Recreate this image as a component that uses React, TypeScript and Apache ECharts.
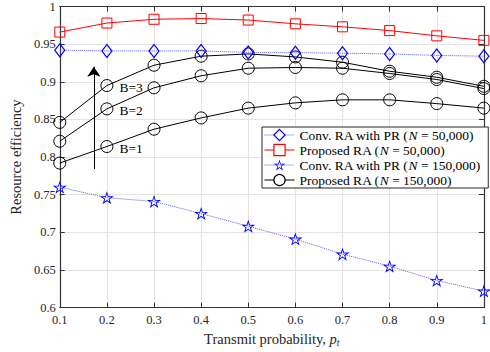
import React, { useEffect, useRef } from "react";
import * as echarts from "echarts";

const xs = [0.1, 0.2, 0.3, 0.4, 0.5, 0.6, 0.7, 0.8, 0.9, 1.0];
const convN50 = [0.942, 0.941, 0.941, 0.941, 0.939, 0.9386, 0.938, 0.937, 0.935, 0.934];
const propN50 = [0.966, 0.978, 0.983, 0.984, 0.982, 0.977, 0.973, 0.968, 0.961, 0.955];
const convN150 = [0.76, 0.746, 0.741, 0.725, 0.708, 0.691, 0.671, 0.655, 0.636, 0.622];
const propB1 = [0.792, 0.814, 0.837, 0.852, 0.865, 0.872, 0.876, 0.876, 0.871, 0.865];
const propB2 = [0.821, 0.864, 0.892, 0.908, 0.918, 0.919, 0.918, 0.911, 0.903, 0.891];
const propB3 = [0.846, 0.895, 0.922, 0.934, 0.937, 0.933, 0.926, 0.914, 0.906, 0.894];
const bLabels = ["B=1", "B=2", "B=3"];
const bLabelIndex = 1;
const arrowX = 0.1723;
const arrowFrom = 0.784;
const arrowTo = 0.92;

const names = [
  "Conv. RA with PR (N = 50,000)",
  "Proposed RA (N = 50,000)",
  "Conv. RA with PR (N = 150,000)",
  "Proposed RA (N = 150,000)",
];

const FONT = "Liberation Serif";
// hollow five-pointed star (outer outline + reversed inner outline)
const STAR =
  "path://M50 0 L61.23 34.55 L97.55 34.55 L68.17 55.9 L79.39 90.45 L50 69.1 L20.61 90.45 L31.83 55.9 L2.45 34.55 L38.77 34.55 Z " +
  "M50 20 L43.26 40.73 L21.47 40.73 L39.1 53.54 L32.37 74.27 L50 61.46 L67.63 74.27 L60.9 53.54 L78.53 40.73 L56.74 40.73 Z";

export default function App() {
  const ref = useRef<HTMLDivElement>(null);
  useEffect(() => {
    if (!ref.current) return;
    const chart = echarts.init(ref.current, undefined, { renderer: "svg" });
    const pts = (ys: number[]) => xs.map((x, i) => [x, ys[i]]);
    const bSeries = [propB1, propB2, propB3].map((ys, k) => ({
      name: names[3],
      type: "line",
      symbol: "circle",
      symbolSize: 12,
      showAllSymbol: true,
      lineStyle: { color: "#000", width: 1 },
      itemStyle: { color: "rgba(0,0,0,0)", borderColor: "#000", borderWidth: 1 },
      z: 3,
      data: xs.map((x, i) =>
        i === bLabelIndex
          ? {
              value: [x, ys[i]],
              label: {
                show: true,
                formatter: bLabels[k],
                position: "right",
                distance: 6,
                offset: [0, 2],
                color: "#000",
                fontFamily: FONT,
                fontSize: 13.5,
              },
            }
          : [x, ys[i]]
      ),
      markLine:
        k === 0
          ? {
              silent: true,
              symbol: ["none", "arrow"],
              symbolSize: 10,
              label: { show: false },
              lineStyle: { color: "#000", width: 1, type: "solid" },
              data: [[{ coord: [arrowX, arrowFrom] }, { coord: [arrowX, arrowTo] }]],
            }
          : undefined,
    }));
    const axisCommon = {
      axisLine: { show: true, lineStyle: { color: "#333", width: 1.2 } },
      axisTick: { show: true, inside: true, length: 5, lineStyle: { color: "#333" } },
    };
    const legendItemStyles = [
      { color: "#ffffff", borderColor: "#0000ff", borderWidth: 1.2 },
      { color: "#ffffff", borderColor: "#ff0000", borderWidth: 1.2 },
      { color: "#0000ff", borderColor: "#0000ff", borderWidth: 0 },
      { color: "#ffffff", borderColor: "#000000", borderWidth: 1.2 },
    ];
    chart.setOption({
      animation: false,
      backgroundColor: "#fff",
      grid: { left: 51, top: 3, right: 2, bottom: 40, containLabel: false },
      legend: {
        orient: "vertical",
        left: 262,
        top: 127,
        padding: [1, 8, 1, 2],
        itemGap: 1,
        itemWidth: 30,
        itemHeight: 14,
        backgroundColor: "#fff",
        borderColor: "#262626",
        borderWidth: 1,
        borderRadius: 0,
        data: names.map((n, i) => ({ name: n, itemStyle: legendItemStyles[i] })),
        lineStyle: { width: 1 },
        formatter: (n: string) => n.replace("(N", "({i|N}"),
        textStyle: {
          fontFamily: FONT,
          fontSize: 13.5,
          color: "#000",
          rich: { i: { fontFamily: FONT, fontSize: 13.5, fontStyle: "italic", color: "#000" } },
        },
      },
      xAxis: [
        {
          type: "value",
          min: 0.1,
          max: 1,
          interval: 0.1,
          ...axisCommon,
          splitLine: { show: true, lineStyle: { color: "#e3e3e3" } },
          axisLabel: {
            margin: 6,
            color: "#262626",
            fontFamily: FONT,
            fontSize: 12.5,
            formatter: (v: number) => String(Math.round(v * 10) / 10),
          },
          name: "Transmit probability, {i|p}{s|t}",
          nameLocation: "middle",
          nameGap: 22,
          nameTextStyle: {
            fontFamily: FONT,
            fontSize: 14.5,
            color: "#262626",
            rich: {
              i: { fontFamily: FONT, fontSize: 14.5, fontStyle: "italic", color: "#262626" },
              s: { fontFamily: FONT, fontSize: 10, fontStyle: "italic", color: "#262626", padding: [6, 0, 0, 0] },
            },
          },
        },
        {
          type: "value",
          position: "top",
          min: 0.1,
          max: 1,
          interval: 0.1,
          ...axisCommon,
          splitLine: { show: false },
          axisLabel: { show: false },
        },
      ],
      yAxis: [
        {
          type: "value",
          min: 0.6,
          max: 1,
          interval: 0.05,
          ...axisCommon,
          splitLine: { show: true, lineStyle: { color: "#e3e3e3" } },
          axisLabel: {
            margin: 4,
            color: "#262626",
            fontFamily: FONT,
            fontSize: 12.5,
            formatter: (v: number) => String(Math.round(v * 100) / 100),
          },
          name: "Resource efficiency",
          nameLocation: "middle",
          nameGap: 33,
          nameTextStyle: { fontFamily: FONT, fontSize: 14.5, color: "#262626" },
        },
        {
          type: "value",
          position: "right",
          min: 0.6,
          max: 1,
          interval: 0.05,
          ...axisCommon,
          splitLine: { show: false },
          axisLabel: { show: false },
        },
      ],
      series: [
        {
          name: names[0],
          type: "line",
          symbol: "diamond",
          symbolSize: [10, 13],
          showAllSymbol: true,
          lineStyle: { color: "#5a5aff", width: 1, type: "dotted" },
          itemStyle: { color: "rgba(0,0,255,0)", borderColor: "#0000ff", borderWidth: 1.2 },
          z: 4,
          data: pts(convN50),
        },
        {
          name: names[1],
          type: "line",
          symbol: "rect",
          symbolSize: 10,
          showAllSymbol: true,
          lineStyle: { color: "#ff0000", width: 1 },
          itemStyle: { color: "rgba(255,0,0,0)", borderColor: "#ff0000", borderWidth: 1 },
          data: pts(propN50),
        },
        {
          name: names[2],
          type: "line",
          symbol: STAR,
          symbolSize: [14, 13],
          showAllSymbol: true,
          lineStyle: { color: "#5a5aff", width: 1, type: "dotted" },
          itemStyle: { color: "#0000ff", borderWidth: 0 },
          data: pts(convN150),
        },
        ...bSeries,
      ],
    });
    return () => chart.dispose();
  }, []);
  return (
    <div
      ref={ref}
      style={{ position: "fixed", left: 0, top: 0, width: 490, height: 352 }}
    />
  );
}
